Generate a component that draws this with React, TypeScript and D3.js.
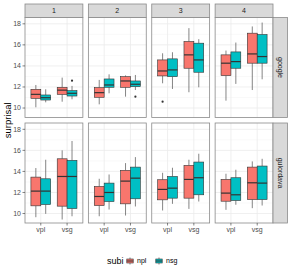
import * as d3 from 'd3';

const datasets = ['google', 'gulordava'];
const facs = ['1', '2', '3', '4'];
const conds = ['vpl', 'vsg'];
const subis = ['npl', 'nsg'];
const yTicks = [10, 12, 14, 16, 18];
const yMinor = [11, 13, 15, 17];
const subiColors = ['#F8766D', '#00BFC4'];

type Box = [string, string, string, number, number, number, number, number];

// fac, cond, subi, lower whisker, q1, median, q3, upper whisker
const googleBoxes: Box[] = [
  ['1', 'vpl', 'npl', 10.07, 10.92, 11.3, 11.78, 12.19],
  ['1', 'vpl', 'nsg', 10.54, 10.76, 10.98, 11.24, 11.78],
  ['1', 'vsg', 'npl', 10.6, 11.3, 11.7, 11.97, 12.89],
  ['1', 'vsg', 'nsg', 10.83, 11.14, 11.4, 11.65, 12.1],
  ['2', 'vpl', 'npl', 10.35, 11.02, 11.46, 11.94, 12.67],
  ['2', 'vpl', 'nsg', 11.4, 11.97, 12.19, 12.76, 13.2],
  ['2', 'vsg', 'npl', 11.08, 11.97, 12.57, 12.98, 13.1],
  ['2', 'vsg', 'nsg', 11.71, 12.03, 12.26, 12.57, 13.14],
  ['3', 'vpl', 'npl', 12.35, 13.05, 13.52, 14.57, 15.2],
  ['3', 'vpl', 'nsg', 11.81, 12.98, 13.62, 14.67, 15.3],
  ['3', 'vsg', 'npl', 11.5, 13.78, 15.05, 16.32, 17.59],
  ['3', 'vsg', 'nsg', 11.97, 13.4, 14.57, 16.16, 16.54],
  ['4', 'vpl', 'npl', 10.7, 13.08, 14.26, 15.05, 15.46],
  ['4', 'vpl', 'nsg', 12.29, 13.78, 14.41, 15.33, 16.22],
  ['4', 'vsg', 'npl', 11.71, 14.26, 15.14, 17.11, 17.75],
  ['4', 'vsg', 'nsg', 12.73, 14.26, 14.89, 16.98, 18.12],
];

const gulordavaBoxes: Box[] = [
  ['1', 'vpl', 'npl', 9.65, 10.73, 12.13, 13.46, 14.32],
  ['1', 'vpl', 'nsg', 9.97, 10.86, 12.13, 13.3, 15.11],
  ['1', 'vsg', 'npl', 9.43, 10.7, 13.52, 15.2, 16.0],
  ['1', 'vsg', 'nsg', 9.74, 10.48, 13.52, 15.05, 16.89],
  ['2', 'vpl', 'npl', 9.74, 10.76, 11.62, 12.57, 13.3],
  ['2', 'vpl', 'nsg', 10.38, 11.14, 12.0, 12.89, 13.71],
  ['2', 'vsg', 'npl', 9.81, 10.92, 13.08, 14.1, 14.79],
  ['2', 'vsg', 'nsg', 10.67, 11.4, 13.36, 14.41, 15.36],
  ['3', 'vpl', 'npl', 10.29, 11.3, 12.29, 13.21, 13.87],
  ['3', 'vpl', 'nsg', 10.92, 11.46, 12.41, 13.52, 14.35],
  ['3', 'vsg', 'npl', 10.44, 11.46, 13.24, 14.57, 15.11],
  ['3', 'vsg', 'nsg', 11.14, 11.78, 13.4, 14.89, 15.68],
  ['4', 'vpl', 'npl', 10.35, 11.17, 11.94, 13.24, 13.78],
  ['4', 'vpl', 'nsg', 10.83, 11.24, 11.78, 13.4, 14.16],
  ['4', 'vsg', 'npl', 10.51, 11.33, 12.92, 14.41, 14.95],
  ['4', 'vsg', 'nsg', 10.76, 11.33, 12.89, 14.51, 15.2],
];

// dataset, fac, cond, subi, value
const outliers: [string, string, string, string, number][] = [
  ['google', '1', 'vsg', 'nsg', 12.6],
  ['google', '2', 'vsg', 'nsg', 11.08],
  ['google', '3', 'vpl', 'npl', 10.6],
];

const boxesByDataset: Record<string, Box[]> = { google: googleBoxes, gulordava: gulordavaBoxes };

const W = 291;
const H = 268;
const panelLeft = 25;
const panelRight = 273;
const colGap = 5.5;
const stripTop = 4;
const stripH = 13.5;
const panelTop = stripTop + stripH;
const panelH = 100;
const rowGap = 5.5;
const stripW = 14.5;
const font = '"Liberation Sans", Arial, Helvetica, sans-serif';
const ink = '#333333';

export default function App() {
  const colW = (panelRight - panelLeft - colGap * (facs.length - 1)) / facs.length;
  const colX = (i: number) => panelLeft + i * (colW + colGap);
  const rowY = (j: number) => panelTop + j * (panelH + rowGap);
  const bottom = rowY(1) + panelH;

  const subiIdx = (s: string) => subis.indexOf(s);

  const legendY = 261;
  const keySize = 8;

  return (
    <svg width={W} height={H} style={{ position: 'absolute', left: 0, top: 0, background: '#fff' }} fontFamily={font}>
      <rect width={W} height={H} fill="#fff" />
      {datasets.map((ds, j) => {
        const top = rowY(j);
        const y = d3.scaleLinear().domain([9.1, 18.6]).range([top + panelH, top]);
        return (
          <g key={ds}>
            {facs.map((fac, i) => {
              const left = colX(i);
              const x = d3.scalePoint<string>().domain(conds).range([left, left + colW]).padding(0.6);
              const step = x.step();
              const bw = step * 0.375;
              const boxes = boxesByDataset[ds].filter(b => b[0] === fac);
              return (
                <g key={fac}>
                  <rect x={left} y={top} width={colW} height={panelH} fill="#fff" />
                  {yMinor.map(t => (
                    <line key={'m' + t} x1={left} x2={left + colW} y1={y(t)} y2={y(t)} stroke="#F2F2F2" strokeWidth={0.5} />
                  ))}
                  {yTicks.map(t => (
                    <line key={'g' + t} x1={left} x2={left + colW} y1={y(t)} y2={y(t)} stroke="#EBEBEB" strokeWidth={0.8} />
                  ))}
                  {conds.map(c => (
                    <line key={'v' + c} x1={x(c)} x2={x(c)} y1={top} y2={top + panelH} stroke="#EBEBEB" strokeWidth={0.8} />
                  ))}
                  {boxes.map(([, cond, subi, lo, q1, med, q3, hi]) => {
                    const cx = (x(cond) as number) + (subiIdx(subi) - 0.5) * bw;
                    return (
                      <g key={cond + subi}>
                        <line x1={cx} x2={cx} y1={y(hi)} y2={y(q3)} stroke={ink} strokeWidth={0.6} />
                        <line x1={cx} x2={cx} y1={y(q1)} y2={y(lo)} stroke={ink} strokeWidth={0.6} />
                        <rect x={cx - bw / 2} y={y(q3)} width={bw} height={y(q1) - y(q3)}
                          fill={subiColors[subiIdx(subi)]} stroke={ink} strokeWidth={0.6} />
                        <line x1={cx - bw / 2} x2={cx + bw / 2} y1={y(med)} y2={y(med)} stroke={ink} strokeWidth={1.2} />
                      </g>
                    );
                  })}
                  {outliers.filter(o => o[0] === ds && o[1] === fac).map(([, , cond, subi, v], k) => (
                    <circle key={k} cx={(x(cond) as number) + (subiIdx(subi) - 0.5) * bw} cy={y(v)} r={1.1} fill={ink} />
                  ))}
                  <rect x={left} y={top} width={colW} height={panelH} fill="none" stroke="#8a8a8a" strokeWidth={0.8} />
                  {j === 0 && (
                    <g>
                      <rect x={left} y={stripTop} width={colW} height={stripH} fill="#D9D9D9" stroke="#8a8a8a" strokeWidth={0.8} />
                      <text x={left + colW / 2} y={stripTop + stripH / 2} dy="0.35em" textAnchor="middle" fontSize={7} fill="#1A1A1A">{fac}</text>
                    </g>
                  )}
                  {j === datasets.length - 1 && conds.map(c => (
                    <g key={'t' + c}>
                      <line x1={x(c)} x2={x(c)} y1={bottom} y2={bottom + 2.5} stroke={ink} strokeWidth={0.6} />
                      <text x={x(c)} y={bottom + 4} dy="0.75em" textAnchor="middle" fontSize={7} fill="#4D4D4D">{c}</text>
                    </g>
                  ))}
                  {i === 0 && yTicks.map(t => (
                    <g key={'yt' + t}>
                      <line x1={left - 2.5} x2={left} y1={y(t)} y2={y(t)} stroke={ink} strokeWidth={0.6} />
                      <text x={left - 4} y={y(t)} dy="0.35em" textAnchor="end" fontSize={7} fill="#4D4D4D">{t}</text>
                    </g>
                  ))}
                </g>
              );
            })}
            <rect x={panelRight} y={top} width={stripW} height={panelH} fill="#D9D9D9" stroke="#8a8a8a" strokeWidth={0.8} />
            <text transform={`translate(${panelRight + stripW / 2},${top + panelH / 2}) rotate(90)`} dy="0.35em"
              textAnchor="middle" fontSize={7} fill="#1A1A1A">{ds}</text>
          </g>
        );
      })}
      <text transform={`translate(8,${(panelTop + bottom) / 2}) rotate(-90)`} dy="0.35em" textAnchor="middle" fontSize={9.5} fill="#000">surprisal</text>
      <g>
        <text x={107} y={legendY} dy="0.35em" fontSize={9} fill="#000">subi</text>
        {subis.map((s, k) => {
          const kx = 126 + k * 29;
          const cx = kx + keySize / 2;
          const ky = legendY - keySize / 2;
          return (
            <g key={s}>
              <line x1={cx} x2={cx} y1={ky + 0.5} y2={ky + keySize - 0.5} stroke={ink} strokeWidth={0.6} />
              <rect x={kx + 0.8} y={ky + 2} width={keySize - 1.6} height={keySize - 4} fill={subiColors[k]} stroke={ink} strokeWidth={0.6} />
              <line x1={kx + 0.8} x2={kx + keySize - 0.8} y1={legendY} y2={legendY} stroke={ink} strokeWidth={1} />
              <text x={kx + keySize + 3} y={legendY} dy="0.35em" fontSize={7} fill="#000">{s}</text>
            </g>
          );
        })}
      </g>
    </svg>
  );
}
